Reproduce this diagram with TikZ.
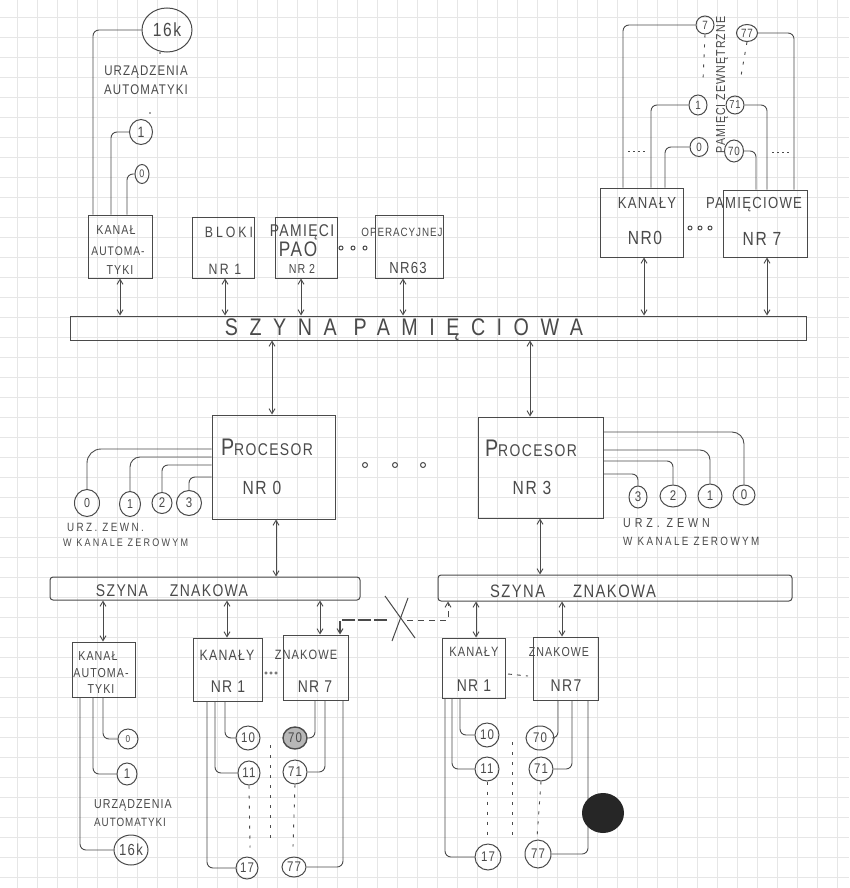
\documentclass[tikz,border=0pt]{standalone}
\usepackage{fontspec}
\setmainfont{Liberation Sans}[LetterSpace=8,FakeStretch=0.82]
\usetikzlibrary{shapes.geometric,arrows.meta}
\definecolor{pencil}{HTML}{4A4A4A}
\definecolor{gridc}{HTML}{E6E6E6}
\newcommand\fsz[1]{\fontsize{#1}{#1}\selectfont}
\newcommand\lsp[1]{\addfontfeatures{LetterSpace=#1}}
\begin{document}
\begin{tikzpicture}[x=1pt,y=-1pt,
  pen/.style={draw=pencil,line width=1pt},
  box/.style={pen,rectangle,inner sep=0pt},
  bus/.style={pen,rectangle,rounded corners=3pt,inner sep=0pt},
  dev/.style={pen,ellipse,inner sep=0pt,text=pencil,font=\fsz{14}},
  lbl/.style={text=pencil,inner sep=0pt},
  wire/.style={draw=pencil,line width=0.9pt,rounded corners=6pt},
  link/.style={draw=pencil,line width=0.9pt,{Straight Barb[length=5pt,width=6pt]}-{Straight Barb[length=5pt,width=6pt]}},
  dots/.style={draw=pencil,line width=0.9pt,dash pattern=on 3pt off 7pt},
  fine/.style={draw=pencil,line width=0.9pt,dash pattern=on 1.5pt off 3.5pt},
]
\fill[white] (0,0) rectangle (849,888);
\useasboundingbox (0,0) rectangle (849,888);
\foreach \i in {0,...,41} \draw[gridc,line width=0.6pt] ({17+20*\i},0) -- ({17+20*\i},888);
\foreach \j in {0,...,44} \draw[gridc,line width=0.6pt] (0,{17+20*\j}) -- (849,{17+20*\j});

% ---------- top left: kanal automatyki ----------
\node[box,minimum width=64pt,minimum height=63pt] (ka) at (120,246.5) {};
\node[lbl,font=\fsz{13}] (ka1) at (116,230) {KANAŁ};
\node[lbl,font=\fsz{12.5}] (ka2) at (118,251) {AUTOMA-};
\node[lbl,font=\fsz{13}] (ka3) at (120,270) {TYKI};
\node[dev,minimum width=50pt,minimum height=44pt,font=\fsz{19}] (c16k) at (167,30) {16k};
\node[dev,minimum width=23pt,minimum height=25pt,font=\fsz{15}] (c1t) at (141,132) {1};
\node[dev,minimum width=14pt,minimum height=19pt,font=\fsz{11}] (c0t) at (142,174) {0};
\node[lbl,font=\fsz{14}] (tu1) at (146,72) {URZĄDZENIA};
\node[lbl,font=\fsz{14}] (tu2) at (146,90) {AUTOMATYKI};
\fill[pencil] (160,53) circle[radius=0.9pt] (150,113) circle[radius=0.9pt];
\draw[wire] (ka.north -| 93,0) |- (c16k.west);
\draw[wire] (ka.north -| 111,0) |- (c1t.west);
\draw[wire] (ka.north -| 127,0) |- (c0t.west);

% ---------- bloki pamieci ----------
\node[box,minimum width=62pt,minimum height=61pt] (b1) at (223,247.5) {};
\node[lbl,font=\fsz{15}\lsp{20}] (b1a) at (229,232) {BLOKI};
\node[lbl,font=\fsz{15}\lsp{15}] (b1b) at (225,269) {NR 1};
\node[box,minimum width=62pt,minimum height=61pt] (b2) at (306,247.5) {};
\node[lbl,font=\fsz{17}] (b2a) at (302,232) {PAMIĘCI};
\node[lbl,font=\fsz{21}] (b2b) at (298,249) {PAO};
\node[lbl,font=\fsz{13}] (b2c) at (302,269) {NR 2};
\foreach \x in {341,353,365} \draw[pen] (\x,248) circle[radius=2pt];
\node[box,minimum width=68pt,minimum height=63pt] (b63) at (409,246.5) {};
\node[lbl,font=\fsz{12}] (b63a) at (402,232) {OPERACYJNEJ};
\node[lbl,font=\fsz{16}] (b63b) at (408,268) {NR63};

% ---------- top right: kanaly pamieciowe ----------
\node[box,minimum width=83pt,minimum height=69pt] (kn0) at (641.5,222.5) {};
\node[box,minimum width=84pt,minimum height=67pt] (kn7) at (765,223.5) {};
\node[lbl,font=\fsz{16}] (kn0a) at (647,203) {KANAŁY};
\node[lbl,font=\fsz{19}] (kn0b) at (645,238) {NR0};
\node[lbl,font=\fsz{16}] (kn7a) at (754,205) {PAMIĘCIOWE};
\node[lbl,font=\fsz{19}] (kn7b) at (762,239) {NR 7};
\foreach \x in {690,700,710} \draw[pen] (\x,228) circle[radius=2pt];
\node[dev,minimum width=18pt,minimum height=18pt,font=\fsz{12}] (c7) at (705,25) {7};
\node[dev,minimum width=21pt,minimum height=17pt,font=\fsz{12}] (c77) at (747,33) {77};
\node[dev,minimum width=18pt,minimum height=20pt,font=\fsz{12}] (c1r) at (698,105) {1};
\node[dev,minimum width=18pt,minimum height=18pt,font=\fsz{11.5}] (c71) at (735,105) {71};
\node[dev,minimum width=18pt,minimum height=19pt,font=\fsz{12}] (c0r) at (699,147) {0};
\node[dev,minimum width=19pt,minimum height=22pt,font=\fsz{12}] (c70) at (734,151) {70};
\node[lbl,rotate=90,font=\fsz{13}] (pz) at (722,85) {PAMIĘCI ZEWNĘTRZNE};
\draw[wire] (kn0.north -| 623,0) |- (c7.west);
\draw[wire] (kn0.north -| 651,0) |- (c1r.west);
\draw[wire] (kn0.north -| 665,0) |- (c0r.west);
\draw[wire] (kn7.north -| 756,0) |- (c70.east);
\draw[wire] (kn7.north -| 767,0) |- (c71.east);
\draw[wire] (kn7.north -| 794,0) |- (c77.east);
\draw[dots] (c7.south) -- ++(-2,46);
\draw[dots] (c77.south) -- ++(-6,34);
\draw[fine] (628,151) -- (646,151);
\draw[fine] (772,152) -- (792,152);

% ---------- szyna pamieciowa ----------
\node[box,minimum width=736pt,minimum height=24pt] (bm) at (438,328) {};
\node[lbl,font=\fsz{24}\lsp{48}] (bmt) at (404,330) {SZYNA PAMIĘCIOWA};
\draw[link] (ka.south) -- (bm.north -| ka.south);
\draw[link] (b1.south -| 225,0) -- (bm.north -| 225,0);
\draw[link] (b2.south -| 301,0) -- (bm.north -| 301,0);
\draw[link] (b63.south -| 403,0) -- (bm.north -| 403,0);
\draw[link] (kn0.south -| 644,0) -- (bm.north -| 644,0);
\draw[link] (kn7.south -| 767,0) -- (bm.north -| 767,0);

% ---------- procesory ----------
\node[box,minimum width=123pt,minimum height=104pt] (p0) at (273.5,467) {};
\node[lbl] (p0a) at (267,447) {{\fsz{24}P}{\fsz{17}ROCESOR}};
\node[lbl,font=\fsz{19}] (p0b) at (262,488) {NR 0};
\node[box,minimum width=125pt,minimum height=101pt] (p3) at (540.5,467.5) {};
\node[lbl] (p3a) at (531,448) {{\fsz{24}P}{\fsz{17}ROCESOR}};
\node[lbl,font=\fsz{19}] (p3b) at (532,488) {NR 3};
\foreach \x in {365,395,423} \draw[pen] (\x,465) circle[radius=2.5pt];
\draw[link] (bm.south -| 272,0) -- (p0.north -| 272,0);
\draw[link] (bm.south -| 530,0) -- (p3.north -| 530,0);

\node[dev,minimum width=25pt,minimum height=27pt,font=\fsz{13}] (d0) at (87,503) {0};
\node[dev,minimum width=21pt,minimum height=25pt,font=\fsz{13}] (d1) at (130,504) {1};
\node[dev,minimum width=20pt,minimum height=21pt,font=\fsz{14}] (d2) at (162,503) {2};
\node[dev,minimum width=25pt,minimum height=25pt,font=\fsz{14}] (d3) at (189,503) {3};
\draw[wire,rounded corners=14pt] (p0.west |- 0,449) -| (d0.north);
\draw[wire,rounded corners=10pt] (p0.west |- 0,457) -| (d1.north);
\draw[wire] (p0.west |- 0,465) -| (d2.north);
\draw[wire] (p0.west |- 0,477) -| (d3.north);
\node[lbl,font=\fsz{12}\lsp{20},anchor=west] (u0a) at (67,527) {URZ. ZEWN.};
\node[lbl,font=\fsz{11}\lsp{20},anchor=west] (u0b) at (63,543) {W KANALE ZEROWYM};

\node[dev,minimum width=18pt,minimum height=22pt] (r3) at (638,497) {3};
\node[dev,minimum width=26pt,minimum height=22pt] (r2) at (673,496) {2};
\node[dev,minimum width=24pt,minimum height=24pt] (r1) at (710,496) {1};
\node[dev,minimum width=22pt,minimum height=20pt] (r0) at (744,495) {0};
\draw[wire,rounded corners=12pt] (p3.east |- 0,432) -| (r0.north);
\draw[wire,rounded corners=10pt] (p3.east |- 0,450) -| (r1.north);
\draw[wire] (p3.east |- 0,461) -| (r2.north);
\draw[wire] (p3.east |- 0,474) -| (r3.north);
\node[lbl,font=\fsz{13}\lsp{30},anchor=west] (u3a) at (623,523) {URZ. ZEWN};
\node[lbl,font=\fsz{12}\lsp{20},anchor=west] (u3b) at (623,541) {W KANALE ZEROWYM};

% ---------- szyny znakowe ----------
\node[bus,minimum width=310pt,minimum height=23pt] (bzL) at (205,588.5) {};
\node[lbl,font=\fsz{17}] (bzLt) at (172,591) {SZYNA\hspace{22pt}ZNAKOWA};
\node[bus,minimum width=354pt,minimum height=26pt] (bzR) at (615,588) {};
\node[lbl,font=\fsz{18}] (bzRt) at (573,591) {SZYNA\hspace{28pt}ZNAKOWA};
\draw[link] (p0.south -| 276,0) -- (bzL.north -| 276,0);
\draw[link] (bzR.north -| 540,0) -- (p3.south -| 540,0);

% ---------- dolne kanaly lewe ----------
\node[box,minimum width=63pt,minimum height=55pt] (kab) at (103.5,669.5) {};
\node[lbl,font=\fsz{13}] (kab1) at (98,656) {KANAŁ};
\node[lbl,font=\fsz{13}] (kab2) at (101,673) {AUTOMA-};
\node[lbl,font=\fsz{13}] (kab3) at (101,689) {TYKI};
\node[box,minimum width=69pt,minimum height=63pt] (k1L) at (227.5,669.5) {};
\node[box,minimum width=65pt,minimum height=65pt] (k7L) at (315.5,667.5) {};
\node[lbl,font=\fsz{15}] (k1La) at (227,655) {KANAŁY};
\node[lbl,font=\fsz{13.5}] (k7La) at (306,655) {ZNAKOWE};
\node[lbl,font=\fsz{17}] (k1Lb) at (228,687) {NR 1};
\node[lbl,font=\fsz{17}] (k7Lb) at (315,687) {NR 7};
\foreach \x in {266,271,276} \draw[pencil,line width=0.6pt] (\x,673) circle[radius=1.3pt];
\draw[link] (bzL.south -| 103,0) -- (kab.north -| 103,0);
\draw[link] (bzL.south -| 227,0) -- (k1L.north -| 227,0);
\draw[link] (bzL.south -| 320,0) -- (k7L.north -| 320,0);

\node[dev,minimum width=20pt,minimum height=20pt,font=\fsz{10}] (e0) at (128,739) {0};
\node[dev,minimum width=20pt,minimum height=22pt] (e1) at (127,774) {1};
\node[dev,minimum width=34pt,minimum height=30pt,font=\fsz{16}] (e16) at (131,850) {16k};
\draw[wire] (kab.south -| 103,0) |- (e0.west);
\draw[wire] (kab.south -| 93,0) |- (e1.west);
\draw[wire] (kab.south -| 80,0) |- (e16.west);
\node[lbl,font=\fsz{13},anchor=west] (eu1) at (94,805) {URZĄDZENIA};
\node[lbl,font=\fsz{12},anchor=west] (eu2) at (94,822) {AUTOMATYKI};

\node[dev,minimum width=24pt,minimum height=24pt] (f10) at (248,738) {10};
\node[dev,minimum width=22pt,minimum height=24pt] (f11) at (249,773) {11};
\node[dev,minimum width=22pt,minimum height=22pt] (f17) at (247,868) {17};
\draw[wire] (k1L.south -| 225,0) |- (f10.west);
\draw[wire] (k1L.south -| 215,0) |- (f11.west);
\draw[wire] (k1L.south -| 207,0) |- (f17.west);
\node[dev,minimum width=24pt,minimum height=22pt,fill=pencil!40,line width=1.4pt] (g70) at (295,738) {70};
\node[dev,minimum width=24pt,minimum height=24pt] (g71) at (295,772) {71};
\node[dev,minimum width=24pt,minimum height=20pt] (g77) at (294,867) {77};
\draw[wire] (k7L.south -| 315,0) |- (g70.east);
\draw[wire] (k7L.south -| 325,0) |- (g71.east);
\draw[wire] (k7L.south -| 343,0) |- (g77.east);
\draw[dots] (f11.south) -- ++(1,62);
\draw[dots] (270,745) -- (270,838);
\draw[dots] (g71.south) -- ++(-2,62);

% ---------- polaczenie przekreslone ----------
\draw[draw=pencil,line width=1.5pt,dash pattern=on 13pt off 3pt,-{Straight Barb[length=5pt,width=6pt,line width=1pt]}] (387,620) -| (k7L.north -| 340,0);
\draw[draw=pencil,line width=0.9pt,dash pattern=on 6pt off 5pt,-{Straight Barb[length=5pt,width=6pt]}] (407,620) -| (bzR.south -| 448,0);
\draw[pen] (385,596) -- (415,638);
\draw[pen] (408,598) -- (392,641);

% ---------- dolne kanaly prawe ----------
\node[box,minimum width=63pt,minimum height=60pt] (k1R) at (473.5,668) {};
\node[box,minimum width=65pt,minimum height=63pt] (k7R) at (565.5,668.5) {};
\node[lbl,font=\fsz{13.5}] (k1Ra) at (474,652) {KANAŁY};
\node[lbl,font=\fsz{13}] (k7Ra) at (559,652) {ZNAKOWE};
\node[lbl,font=\fsz{17}] (k1Rb) at (474,686) {NR 1};
\node[lbl,font=\fsz{17}] (k7Rb) at (566,686) {NR7};
\draw[dots,dash pattern=on 4pt off 5pt] (508,674) -- (528,676);
\draw[link] (bzR.south -| 476,0) -- (k1R.north -| 476,0);
\draw[link] (bzR.south -| 562,0) -- (k7R.north -| 562,0);

\node[dev,minimum width=24pt,minimum height=24pt] (h10) at (487,735) {10};
\node[dev,minimum width=24pt,minimum height=24pt] (h11) at (487,769) {11};
\node[dev,minimum width=26pt,minimum height=26pt] (h17) at (488,857) {17};
\draw[wire] (k1R.south -| 460,0) |- (h10.west);
\draw[wire] (k1R.south -| 452,0) |- (h11.west);
\draw[wire] (k1R.south -| 445,0) |- (h17.west);
\node[dev,minimum width=28pt,minimum height=24pt] (i70) at (540,738) {70};
\node[dev,minimum width=24pt,minimum height=24pt] (i71) at (541,769) {71};
\node[dev,minimum width=26pt,minimum height=28pt] (i77) at (538,854) {77};
\draw[wire] (k7R.south -| 558,0) |- (i70.east);
\draw[wire] (k7R.south -| 572,0) |- (i71.east);
\draw[wire] (k7R.south -| 588,0) |- (i77.east);
\draw[dots] (h11.south) -- ++(0,56);
\draw[dots] (512,742) -- (512,838);
\draw[dots] (i71.south) -- ++(-4,56);

% ink blot
\fill[black!85] (603,813) ellipse[x radius=21pt,y radius=20pt];
\end{tikzpicture}
\end{document}
